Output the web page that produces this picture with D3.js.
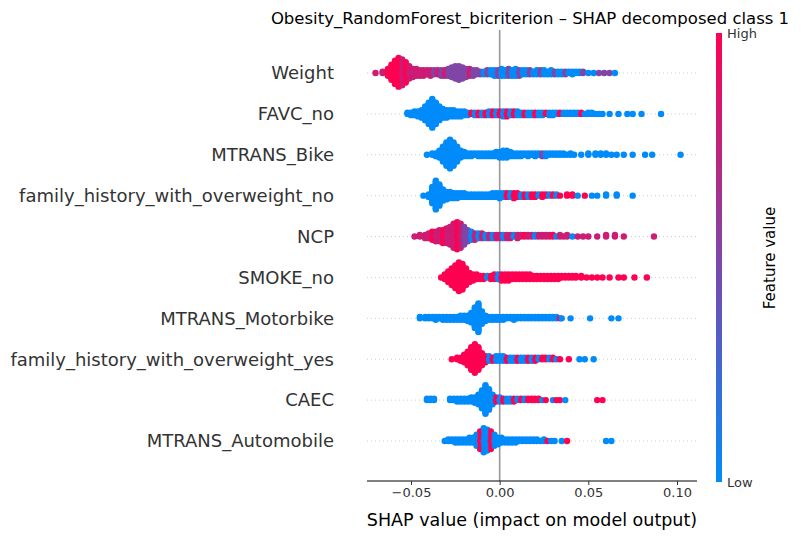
<!DOCTYPE html><html><head><meta charset="utf-8"><script src="https://cdn.jsdelivr.net/npm/d3@7"></script>
<style>body{margin:0;background:#fff}text{font-family:"DejaVu Sans",sans-serif}</style></head><body><svg id="c" width="802" height="540"></svg>
<script>
const title="Obesity_RandomForest_bicriterion – SHAP decomposed class 1";
const features=["Weight","FAVC_no","MTRANS_Bike","family_history_with_overweight_no","NCP","SMOKE_no","MTRANS_Motorbike","family_history_with_overweight_yes","CAEC","MTRANS_Automobile"];
const xTicks=[-0.05,0,0.05,0.10];
const xTickLabels=["−0.05","0.00","0.05","0.10"];
// [shap value, count, colour code] ; L low, M mid, P mid-high, H high
const weight=[[-0.070,1,"P"],[-0.066,2,"P"],[-0.063,6,"H"],[-0.061,12,"H"],[-0.059,18,"H"],[-0.057,22,"H"],[-0.055,20,"P"],[-0.053,16,"H"],[-0.051,10,"P"],[-0.049,7,"P"],[-0.047,6,"P"],[-0.045,5,"P"],[-0.043,5,"P"],[-0.041,4,"P"],[-0.039,5,"P"],[-0.037,4,"M"],[-0.035,4,"P"],[-0.033,5,"M"],[-0.031,5,"P"],[-0.029,6,"M"],[-0.027,8,"M"],[-0.025,10,"M"],[-0.023,11,"M"],[-0.021,9,"M"],[-0.019,7,"M"],[-0.017,6,"P"],[-0.015,5,"M"],[-0.013,4,"M"],[-0.011,3,"M"],[-0.009,3,"L"],[-0.007,4,"M"],[-0.005,4,"L"],[-0.003,5,"L"],[-0.001,5,"M"],[0.001,6,"L"],[0.003,5,"L"],[0.005,6,"M"],[0.007,5,"L"],[0.009,6,"L"],[0.011,5,"M"],[0.013,4,"L"],[0.015,4,"L"],[0.017,4,"M"],[0.019,3,"L"],[0.021,4,"L"],[0.023,4,"M"],[0.025,4,"L"],[0.027,3,"L"],[0.029,4,"L"],[0.031,3,"M"],[0.033,3,"L"],[0.035,3,"L"],[0.037,3,"M"],[0.039,2,"L"],[0.041,3,"L"],[0.043,2,"L"],[0.045,2,"L"],[0.047,2,"M"],[0.050,1,"L"],[0.053,1,"L"],[0.056,1,"M"],[0.059,1,"M"],[0.062,1,"M"],[0.065,1,"L"]];
const favcNo=[[-0.052,2,"L"],[-0.050,3,"L"],[-0.048,4,"L"],[-0.046,5,"L"],[-0.044,7,"L"],[-0.042,12,"L"],[-0.040,18,"L"],[-0.038,24,"L"],[-0.036,18,"L"],[-0.034,12,"L"],[-0.032,8,"L"],[-0.030,7,"L"],[-0.028,6,"L"],[-0.026,6,"L"],[-0.024,5,"L"],[-0.022,5,"L"],[-0.020,4,"L"],[-0.018,3,"L"],[-0.016,2,"H"],[-0.014,3,"L"],[-0.012,3,"H"],[-0.010,3,"L"],[-0.008,3,"H"],[-0.006,4,"L"],[-0.004,4,"H"],[-0.002,4,"L"],[0.000,4,"H"],[0.002,5,"L"],[0.004,5,"H"],[0.006,4,"L"],[0.008,4,"H"],[0.010,4,"L"],[0.012,3,"L"],[0.014,3,"H"],[0.016,3,"L"],[0.018,3,"L"],[0.020,3,"H"],[0.022,3,"L"],[0.024,3,"L"],[0.026,2,"H"],[0.028,3,"L"],[0.030,3,"L"],[0.032,2,"L"],[0.034,2,"H"],[0.036,2,"L"],[0.038,2,"L"],[0.040,2,"L"],[0.042,2,"L"],[0.044,2,"L"],[0.046,2,"H"],[0.048,1,"L"],[0.050,2,"L"],[0.052,2,"L"],[0.054,1,"L"],[0.056,1,"L"],[0.058,1,"L"],[0.062,1,"L"],[0.067,1,"L"],[0.072,1,"L"],[0.075,1,"L"],[0.080,1,"L"],[0.091,1,"L"]];
const bike=[[-0.041,1,"L"],[-0.038,2,"L"],[-0.036,3,"L"],[-0.034,6,"L"],[-0.032,12,"L"],[-0.030,18,"L"],[-0.028,22,"L"],[-0.026,18,"L"],[-0.024,12,"L"],[-0.022,6,"L"],[-0.020,4,"L"],[-0.018,3,"L"],[-0.016,3,"L"],[-0.014,2,"L"],[-0.012,3,"L"],[-0.010,3,"L"],[-0.008,3,"L"],[-0.006,3,"L"],[-0.004,3,"L"],[-0.002,4,"L"],[0.000,5,"L"],[0.002,6,"L"],[0.004,6,"L"],[0.006,4,"L"],[0.008,3,"L"],[0.010,3,"L"],[0.012,3,"L"],[0.014,2,"L"],[0.016,3,"L"],[0.018,2,"L"],[0.020,3,"L"],[0.022,2,"L"],[0.024,3,"M"],[0.026,3,"L"],[0.028,2,"L"],[0.030,2,"L"],[0.032,2,"L"],[0.034,2,"L"],[0.036,2,"L"],[0.038,1,"L"],[0.040,2,"L"],[0.042,1,"L"],[0.046,1,"L"],[0.050,2,"L"],[0.054,2,"L"],[0.057,2,"L"],[0.060,2,"L"],[0.063,1,"L"],[0.066,1,"L"],[0.070,1,"L"],[0.075,1,"L"],[0.082,1,"L"],[0.086,1,"L"],[0.102,1,"L"]];
const famNo=[[-0.043,1,"L"],[-0.040,3,"L"],[-0.038,14,"L"],[-0.036,24,"L"],[-0.034,18,"L"],[-0.032,10,"L"],[-0.030,7,"L"],[-0.028,6,"L"],[-0.026,5,"L"],[-0.024,5,"L"],[-0.022,4,"L"],[-0.020,4,"L"],[-0.018,3,"L"],[-0.016,3,"L"],[-0.014,3,"L"],[-0.012,3,"L"],[-0.010,3,"L"],[-0.008,3,"L"],[-0.006,3,"L"],[-0.004,4,"L"],[-0.002,4,"L"],[0.000,5,"L"],[0.002,4,"L"],[0.004,4,"H"],[0.006,4,"L"],[0.008,5,"H"],[0.010,4,"H"],[0.012,3,"L"],[0.014,3,"H"],[0.016,3,"L"],[0.018,3,"H"],[0.020,3,"H"],[0.022,2,"L"],[0.024,3,"H"],[0.026,2,"H"],[0.028,2,"L"],[0.030,2,"H"],[0.032,2,"L"],[0.034,1,"H"],[0.038,2,"H"],[0.041,2,"H"],[0.044,1,"L"],[0.048,1,"H"],[0.052,1,"L"],[0.055,1,"L"],[0.060,2,"L"],[0.066,2,"L"],[0.075,1,"L"]];
const ncp=[[-0.048,1,"P"],[-0.045,2,"P"],[-0.042,3,"P"],[-0.040,4,"P"],[-0.038,6,"H"],[-0.036,7,"P"],[-0.034,8,"P"],[-0.032,9,"H"],[-0.030,10,"P"],[-0.028,12,"P"],[-0.026,16,"P"],[-0.024,18,"H"],[-0.022,16,"P"],[-0.020,12,"M"],[-0.018,8,"M"],[-0.016,6,"L"],[-0.014,5,"P"],[-0.012,4,"L"],[-0.010,4,"P"],[-0.008,3,"L"],[-0.006,3,"P"],[-0.004,3,"L"],[-0.002,3,"P"],[0.000,3,"P"],[0.002,3,"L"],[0.004,3,"P"],[0.006,3,"P"],[0.008,2,"L"],[0.010,3,"P"],[0.012,2,"P"],[0.014,2,"H"],[0.016,2,"P"],[0.018,2,"P"],[0.020,2,"L"],[0.022,2,"P"],[0.024,2,"P"],[0.026,2,"P"],[0.028,2,"P"],[0.030,2,"H"],[0.032,1,"L"],[0.034,2,"P"],[0.036,1,"P"],[0.038,2,"P"],[0.041,1,"L"],[0.044,1,"P"],[0.047,1,"P"],[0.050,1,"P"],[0.055,1,"P"],[0.060,2,"P"],[0.065,2,"P"],[0.070,1,"P"],[0.087,1,"P"]];
const smokeNo=[[-0.033,1,"H"],[-0.031,4,"H"],[-0.029,8,"H"],[-0.027,12,"H"],[-0.025,16,"H"],[-0.023,20,"H"],[-0.021,18,"H"],[-0.019,12,"H"],[-0.017,7,"H"],[-0.015,5,"H"],[-0.013,4,"H"],[-0.011,3,"H"],[-0.009,3,"H"],[-0.007,2,"L"],[-0.005,3,"H"],[-0.003,4,"H"],[-0.001,4,"L"],[0.001,5,"H"],[0.003,5,"H"],[0.005,5,"H"],[0.007,4,"H"],[0.009,4,"H"],[0.011,4,"H"],[0.013,4,"H"],[0.015,4,"H"],[0.017,4,"H"],[0.019,3,"H"],[0.021,3,"H"],[0.023,3,"H"],[0.025,3,"H"],[0.027,3,"H"],[0.029,3,"H"],[0.031,3,"H"],[0.033,3,"H"],[0.035,2,"H"],[0.037,2,"H"],[0.039,2,"H"],[0.041,2,"H"],[0.043,2,"H"],[0.046,2,"H"],[0.049,1,"H"],[0.052,1,"H"],[0.055,1,"H"],[0.058,1,"H"],[0.062,1,"H"],[0.067,1,"H"],[0.070,1,"H"],[0.076,1,"H"],[0.083,1,"H"]];
const motorbike=[[-0.045,2,"L"],[-0.042,2,"L"],[-0.040,2,"L"],[-0.038,2,"L"],[-0.036,3,"L"],[-0.034,2,"L"],[-0.032,3,"L"],[-0.030,3,"L"],[-0.028,3,"L"],[-0.026,3,"L"],[-0.024,3,"L"],[-0.022,4,"L"],[-0.020,4,"L"],[-0.018,5,"L"],[-0.016,8,"L"],[-0.014,16,"L"],[-0.012,22,"L"],[-0.010,10,"L"],[-0.008,5,"L"],[-0.006,3,"L"],[-0.004,3,"L"],[-0.002,3,"L"],[0.000,3,"L"],[0.002,3,"L"],[0.004,2,"L"],[0.006,2,"L"],[0.008,3,"L"],[0.010,2,"L"],[0.012,2,"L"],[0.014,2,"L"],[0.016,2,"L"],[0.018,2,"L"],[0.020,2,"L"],[0.022,2,"L"],[0.024,2,"L"],[0.026,2,"L"],[0.028,2,"L"],[0.030,2,"L"],[0.032,2,"L"],[0.034,1,"H"],[0.035,1,"L"],[0.040,1,"L"],[0.051,1,"L"],[0.063,1,"L"],[0.067,1,"L"]];
const famYes=[[-0.027,1,"H"],[-0.024,2,"H"],[-0.022,3,"H"],[-0.020,6,"H"],[-0.018,10,"H"],[-0.016,16,"H"],[-0.014,20,"H"],[-0.012,16,"H"],[-0.010,9,"H"],[-0.008,5,"H"],[-0.006,4,"L"],[-0.004,3,"H"],[-0.002,4,"L"],[0.000,4,"L"],[0.002,4,"L"],[0.004,3,"H"],[0.006,3,"L"],[0.008,3,"L"],[0.010,3,"H"],[0.012,3,"L"],[0.014,3,"L"],[0.016,3,"H"],[0.018,3,"L"],[0.020,3,"H"],[0.022,2,"L"],[0.024,2,"H"],[0.026,2,"H"],[0.028,2,"L"],[0.030,2,"H"],[0.032,1,"L"],[0.034,1,"H"],[0.039,1,"H"],[0.045,1,"L"],[0.048,1,"L"],[0.053,1,"L"]];
const caec=[[-0.041,2,"L"],[-0.039,2,"L"],[-0.037,2,"L"],[-0.028,2,"L"],[-0.026,2,"L"],[-0.024,3,"L"],[-0.022,3,"L"],[-0.020,3,"L"],[-0.018,3,"L"],[-0.016,4,"L"],[-0.014,5,"L"],[-0.012,8,"L"],[-0.010,14,"L"],[-0.008,22,"L"],[-0.006,16,"L"],[-0.004,8,"L"],[-0.002,4,"H"],[0.000,4,"L"],[0.002,3,"H"],[0.004,3,"L"],[0.006,3,"L"],[0.008,3,"H"],[0.010,2,"L"],[0.012,2,"H"],[0.014,2,"L"],[0.016,2,"H"],[0.018,2,"H"],[0.020,2,"H"],[0.022,2,"H"],[0.024,1,"L"],[0.026,1,"H"],[0.030,1,"L"],[0.032,1,"H"],[0.034,1,"H"],[0.037,1,"L"],[0.055,1,"H"],[0.058,1,"H"]];
const auto=[[-0.031,1,"L"],[-0.029,2,"L"],[-0.027,2,"L"],[-0.025,3,"L"],[-0.023,3,"L"],[-0.021,3,"L"],[-0.019,3,"L"],[-0.017,4,"L"],[-0.015,4,"L"],[-0.013,8,"L"],[-0.011,12,"H"],[-0.009,16,"L"],[-0.007,14,"L"],[-0.005,12,"H"],[-0.003,8,"L"],[-0.001,5,"L"],[0.001,4,"L"],[0.003,3,"L"],[0.005,3,"L"],[0.007,3,"L"],[0.009,3,"L"],[0.011,2,"L"],[0.013,2,"L"],[0.015,2,"L"],[0.017,2,"L"],[0.019,2,"L"],[0.021,2,"L"],[0.023,1,"L"],[0.025,2,"L"],[0.027,1,"H"],[0.029,1,"L"],[0.031,1,"L"],[0.035,1,"L"],[0.038,1,"H"],[0.060,1,"L"],[0.063,1,"L"]];
const rows=[weight,favcNo,bike,famNo,ncp,smokeNo,motorbike,famYes,caec,auto];

const svg=d3.select("#c");
const x=d3.scaleLinear().domain([-0.05,0.10]).range([411,677]);
const y=d3.scalePoint().domain(features).range([73,441]);
const cInt=d3.interpolateRgb("#008bfb","#ff0052");
const codeVal={L:0,M:0.5,P:0.8,H:1};
const x0=367,x1=697;

svg.append("text").attr("x",530).attr("y",24).attr("text-anchor","middle").attr("font-size",16.5).attr("fill","#000").text(title);
features.forEach(f=>{
  svg.append("line").attr("x1",x0).attr("x2",x1).attr("y1",y(f)).attr("y2",y(f)).attr("stroke","#ccc").attr("stroke-width",1).attr("stroke-dasharray","1,3");
  svg.append("text").attr("x",334).attr("y",y(f)).attr("dy","0.35em").attr("text-anchor","end").attr("font-size",18).attr("fill","#333").text(f);
});
svg.append("line").attr("x1",x(0)).attr("x2",x(0)).attr("y1",30).attr("y2",481).attr("stroke","#999").attr("stroke-width",1.6);

rows.forEach((r,i)=>{
  const f=features[i];
  const pts=[];
  const maxC=d3.max(r,d=>d[1]);
  const maxOff=Math.ceil((maxC-1)/2)||1;
  const step=Math.min(1.6,15/maxOff);
  r.forEach(([v,n,c])=>{
    for(let k=0;k<n;k++){
      const off=(k===0?0:Math.ceil(k/2)*(k%2?-1:1));
      pts.push({v,c,off});
    }
  });
  pts.sort((a,b)=>Math.abs(b.off)-Math.abs(a.off));
  svg.append("g").selectAll("circle").data(pts).join("circle")
    .attr("cx",d=>x(d.v)).attr("cy",d=>y(f)+d.off*step).attr("r",3.2)
    .attr("fill",d=>cInt(codeVal[d.c]));
});

const ax=svg.append("g").attr("transform","translate(0,481)");
ax.append("line").attr("x1",x0).attr("x2",x1).attr("stroke","#000").attr("stroke-width",1);
const gg=ax.append("g").call(d3.axisBottom(x).tickValues(xTicks).tickFormat((d,i)=>xTickLabels[i]).tickSize(4));
gg.select(".domain").remove();
gg.selectAll("text").attr("font-size",13).attr("fill","#333").attr("font-family","DejaVu Sans");
gg.selectAll("line").attr("stroke","#333");
svg.append("text").attr("x",532).attr("y",526).attr("text-anchor","middle").attr("font-size",17.5).attr("fill","#000").text("SHAP value (impact on model output)");

const defs=svg.append("defs");
const lg=defs.append("linearGradient").attr("id","cb").attr("x1",0).attr("x2",0).attr("y1",1).attr("y2",0);
d3.range(0,1.01,0.1).forEach(t=>lg.append("stop").attr("offset",t).attr("stop-color",cInt(t)));
svg.append("rect").attr("x",716).attr("y",33).attr("width",6).attr("height",449).attr("fill","url(#cb)");
svg.append("text").attr("x",727).attr("y",38).attr("font-size",13).attr("fill","#333").text("High");
svg.append("text").attr("x",727).attr("y",487).attr("font-size",13).attr("fill","#333").text("Low");
svg.append("text").attr("transform","translate(775,258) rotate(-90)").attr("text-anchor","middle").attr("font-size",15).attr("fill","#000").text("Feature value");
</script></body></html>
